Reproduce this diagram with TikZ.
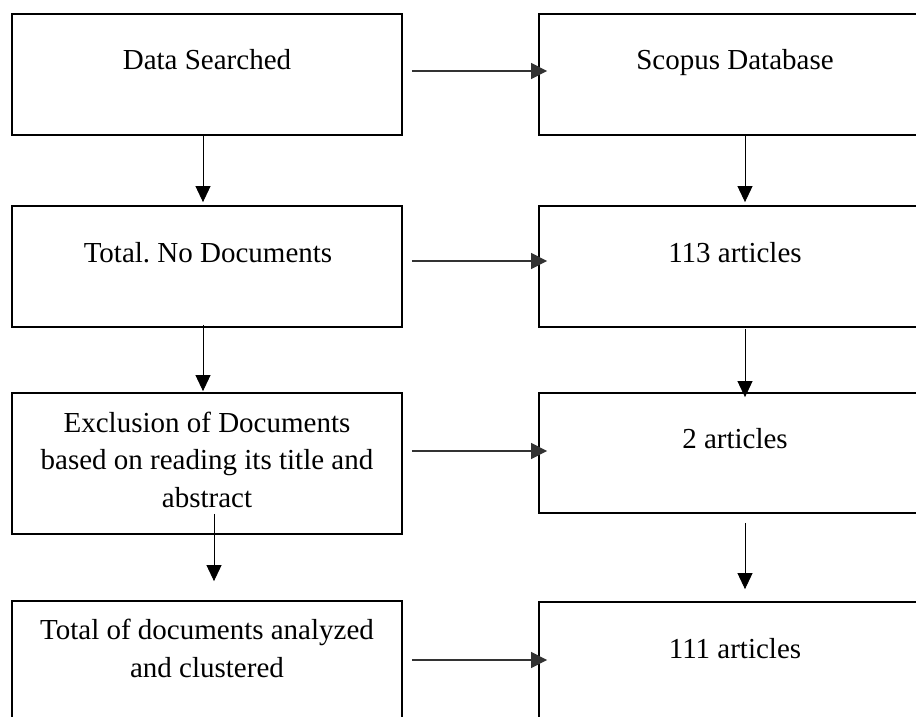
\documentclass[tikz,border=0pt]{standalone}
\usepackage{fontspec}
\setmainfont{Liberation Serif}
\frenchspacing
\usepackage{tikz}
\usetikzlibrary{arrows, arrows.meta}

\begin{document}
\begin{tikzpicture}[x=1pt, y=-1pt,
  box/.style={draw, line width=1.8pt, minimum width=390pt, inner sep=0pt},
  txt/.style={anchor=base, align=center, inner sep=0pt, font=\fontsize{29pt}{37.5pt}\selectfont},
  varrow/.style={-{Triangle[length=16pt, width=15pt]}, line width=0.9pt},
  harrow/.style={-{Triangle[length=16pt, width=16pt]}, line width=1.3pt, black!80}]

\useasboundingbox (0,0) rectangle (916,717);

%boxes
\node [box, minimum height=121pt] (search) at (207,74.5) {};
\node [box, minimum height=121pt] (scopus) at (734,74.5) {};
\node [box, minimum height=121pt] (total) at (207,266.5) {};
\node [box, minimum height=121pt] (found) at (734,266.5) {};
\node [box, minimum height=141pt] (exclude) at (207,463.5) {};
\node [box, minimum height=120pt] (removed) at (734,453) {};
\node [box, minimum height=130pt] (analyzed) at (207,666) {};
\node [box, minimum height=130pt] (kept) at (734,667) {};

%labels (base = last line)
\node [txt] (searchtxt) at (207,70) {Data Searched};
\node [txt] (scopustxt) at (735,70) {Scopus Database};
\node [txt] (totaltxt) at (208,262) {Total. No Documents};
\node [txt] (foundtxt) at (735,262) {113 articles};
\node [txt] (excludetxt) at (207,507) {Exclusion of Documents\\based on reading its title and\\abstract};
\node [txt] (removedtxt) at (735,448) {2 articles};
\node [txt] (analyzedtxt) at (207,677) {Total of documents analyzed\\and clustered};
\node [txt] (kepttxt) at (735,658) {111 articles};

%down arrows
\draw [varrow] ([xshift=-4pt]search.south) -- ([xshift=-4pt, yshift=3pt]total.north);
\draw [varrow] ([xshift=-4pt, yshift=3pt]total.south) -- ([xshift=-4pt, yshift=1pt]exclude.north);
\draw [varrow] ([xshift=7pt, yshift=21pt]exclude.south) -- ([xshift=7pt, yshift=19pt]analyzed.north);
\draw [varrow] ([xshift=11pt]scopus.south) -- ([xshift=11pt, yshift=3pt]found.north);
\draw [varrow] ([xshift=11pt, yshift=-1pt]found.south) -- ([xshift=11pt, yshift=-5pt]removed.north);
\draw [varrow] ([xshift=11pt, yshift=-9pt]removed.south) -- ([xshift=11pt, yshift=12pt]kept.north);

%side arrows
\draw [harrow] ([xshift=9pt, yshift=3.5pt]search.east) -- ([xshift=9pt, yshift=3.5pt]scopus.west);
\draw [harrow] ([xshift=9pt, yshift=5.5pt]total.east) -- ([xshift=9pt, yshift=5.5pt]found.west);
\draw [harrow] ([xshift=9pt, yshift=12.5pt]exclude.east) -- ([xshift=9pt, yshift=2pt]removed.west);
\draw [harrow] ([xshift=9pt, yshift=6pt]analyzed.east) -- ([xshift=9pt, yshift=7pt]kept.west);

\end{tikzpicture}
\end{document}
